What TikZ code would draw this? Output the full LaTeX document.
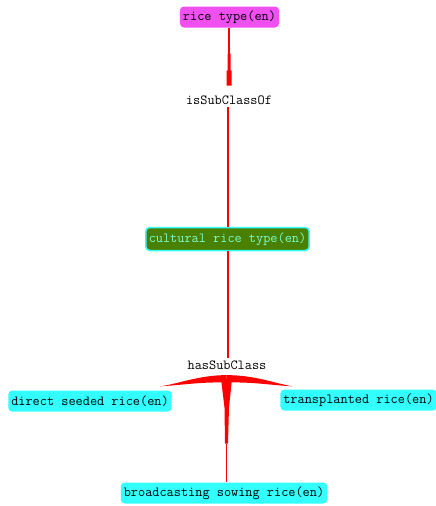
\documentclass[tikz,border=0pt]{standalone}
\usepackage{fontspec}
\usetikzlibrary{calc}
\definecolor{boxmagenta}{RGB}{240,80,240}
\definecolor{boxcyan}{RGB}{51,255,255}
\definecolor{boxgreen}{RGB}{74,128,0}
\definecolor{greentext}{RGB}{120,255,210}
\definecolor{linkred}{RGB}{255,0,0}
\tikzset{
  lbl/.style={font=\ttfamily\fontsize{13.9}{15}\selectfont, inner sep=0pt},
  concept/.style={lbl, rounded corners=4pt, inner xsep=3pt, minimum height=21pt},
  rootbox/.style={concept, fill=boxmagenta},
  leafbox/.style={concept, fill=boxcyan},
  midbox/.style={concept, fill=boxgreen, draw=boxcyan, line width=1.5pt, text=greentext, minimum height=23pt},
  relation/.style={lbl, fill=white, inner sep=2pt},
  redthin/.style={draw=linkred, line width=1.2pt},
  redlink/.style={draw=linkred, line width=2pt},
  wedge/.style={fill=linkred},
}
\begin{document}
\begin{tikzpicture}[x=1pt, y=-1pt]
\useasboundingbox (0,0) rectangle (436,506);

% concepts and relations
\node[rootbox] (root) at (229.5,17) {rice type(en)};
\node[relation] (sub) at (229,100) {isSubClassOf};
\node[midbox] (mid) at (227.5,239) {cultural rice type(en)};
\node[relation] (has) at (227,365) {hasSubClass};
\node[leafbox] (left) at (90,401) {direct seeded rice(en)};
\node[leafbox] (right) at (358.5,400) {transplanted rice(en)};
\node[leafbox] (bottom) at (224,493) {broadcasting sowing rice(en)};

% rice type -> isSubClassOf : thin start, stepped taper
\coordinate (t1) at ($(root.south)+(-0.5,26)$);
\draw[redthin] (root.south -| t1) -- (t1);
\fill[wedge] ($(t1)+(-1.5,0)$) -- ++(3,0) -- ++(0,17) -- ++(1,0) -- ++(0,15)
  -- ++(-5,0) -- ++(0,-15) -- ++(1,0) -- cycle;

% isSubClassOf -> cultural rice type -> hasSubClass
\draw[redlink] (sub.south -| mid.north) -- (mid.north);
\draw[redlink] (mid.south) -- (has.north -| mid.south);

% hasSubClass fan to the three subclasses
\coordinate (hub) at ($(has.south)+(-0.5,6)$);
\fill[wedge] ($(hub)+(0,-2.5)$) .. controls ++(-28,0) and ($(left.north east)+(5,-6)$) .. ($(left.north east)+(-12,-4)$)
  .. controls ($(left.north east)+(8,-5)$) and ($(hub)+(-25,4)$) .. ($(hub)+(0,5)$) -- cycle;
\fill[wedge] ($(hub)+(0,-2.5)$) .. controls ++(28,0) and ($(right.north west)+(-5,-6)$) .. ($(right.north west)+(12,-3)$)
  .. controls ($(right.north west)+(-8,-4)$) and ($(hub)+(25,4)$) .. ($(hub)+(0,5)$) -- cycle;
\coordinate (s1) at ($(hub)+(0,66)$);
\fill[wedge] ($(hub)+(-5.5,1)$) -- ($(hub)+(5.5,1)$) -- ($(hub)+(2.5,30)$) -- ($(s1)+(1.5,0)$)
  -- ($(s1)+(-1.5,0)$) -- ($(hub)+(-2,30)$) -- cycle;
\draw[redthin] (s1) -- (bottom.north -| s1);
\end{tikzpicture}
\end{document}
